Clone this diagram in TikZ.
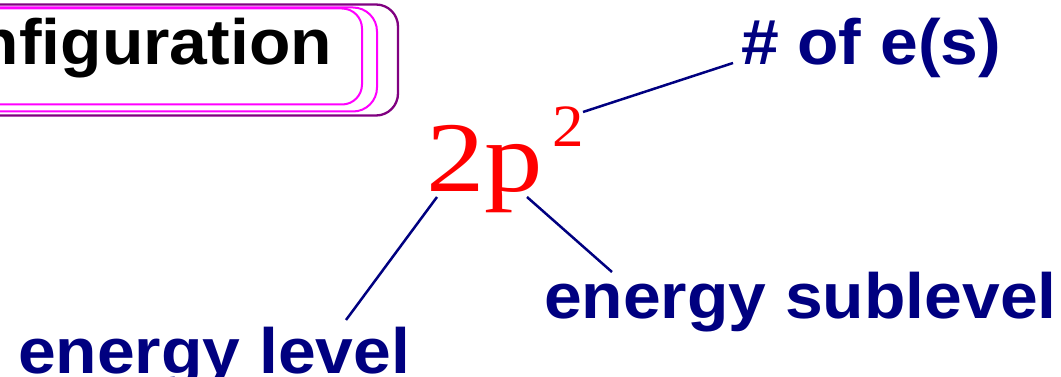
\documentclass[tikz,border=0pt]{standalone}
\usepackage{fontspec}
\newfontfamily\labfont{Liberation Sans}[FakeStretch=1.06]
\newfontfamily\serfont{Liberation Serif}[FakeStretch=1.17]
\newfontfamily\supfont{Liberation Serif}[FakeStretch=1.05]
\definecolor{navy}{HTML}{000080}
\definecolor{boxpurple}{HTML}{800080}
\definecolor{boxmagenta}{HTML}{FF00FF}
\begin{document}
\begin{tikzpicture}[x=1pt,y=-1pt,
  lab/.style={inner sep=0pt,outer sep=0pt,text=navy,font=\labfont\bfseries\fontsize{64}{70}\selectfont},
  title/.style={inner sep=0pt,outer sep=0pt,text=black,font=\labfont\bfseries\fontsize{64}{70}\selectfont},
  big/.style={inner sep=0pt,outer sep=0pt,text=red,font=\serfont\fontsize{100}{110}\selectfont},
  sup/.style={inner sep=0pt,outer sep=0pt,text=red,font=\supfont\fontsize{60}{66}\selectfont},
  conn/.style={draw=navy,line width=2.5pt}]
\useasboundingbox (0,0) rectangle (1061,377);
\begin{scope}
\clip (0,0) rectangle (1061,377);
% title box borders
\draw[boxpurple,line width=2.3pt,rounded corners=22pt] (-40,4.5) rectangle (398,115.5);
\draw[boxmagenta,line width=2pt,rounded corners=24pt] (-40,7.5) rectangle (377,111.5);
\draw[boxmagenta,line width=2pt,rounded corners=20pt] (-40,8.5) rectangle (362,104.5);
\node[title,anchor=base east] (title) at (332,65) {nfiguration};
% formula
\node[big,anchor=base west] (main) at (426,192) {2p};
\node[sup,anchor=base west] (sup) at (552,147) {2};
% labels
\node[lab,anchor=base west] (ne) at (741,65) {\# of e(s)};
\node[lab,anchor=base west] (sub) at (544,318) {energy sublevel};
\node[lab,anchor=base west] (lev) at (18,373) {energy level};
% connector ends
\coordinate (c1) at (583,112);
\coordinate (c2) at (733,63);
\coordinate (c3) at (437,197);
\coordinate (c4) at (346,320);
\coordinate (c5) at (527,197);
\coordinate (c6) at (612,272);
\draw[conn] (c1) -- (c2);
\draw[conn] (c3) -- (c4);
\draw[conn] (c5) -- (c6);
\end{scope}
\end{tikzpicture}
\end{document}
